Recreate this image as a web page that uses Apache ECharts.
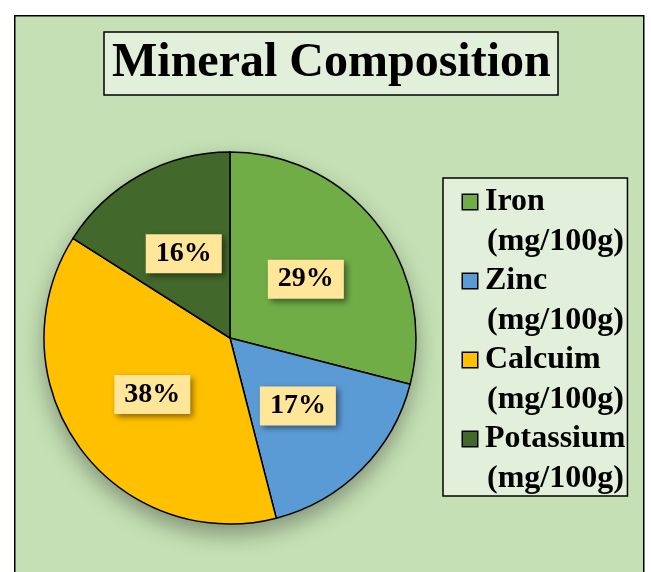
<!DOCTYPE html>
<html>
<head>
<meta charset="utf-8">
<script src="https://cdn.jsdelivr.net/npm/echarts@6/dist/echarts.min.js"></script>
<style>
  html, body { margin: 0; padding: 0; background: #fff; }
  #chart { width: 651px; height: 572px; }
</style>
</head>
<body>
<div id="chart"></div>
<script>
// chart data
const minerals = ["Iron", "Zinc", "Calcuim", "Potassium"];
const unit = "(mg/100g)";
const shares = [29, 17, 38, 16];
const sliceColors = ["#70ad47", "#5b9bd5", "#ffc000", "#43682b"];

const serif = "'Liberation Serif', 'Times New Roman', serif";

const pieData = minerals.map((m, i) => ({
  name: m + " " + unit,
  value: shares[i],
  itemStyle: { color: sliceColors[i] },
}));

// rich styles for the legend: one coloured square per mineral
const LH = 40;
const legendRich = {
  n: { fontSize: 32, fontWeight: "bold", fontFamily: serif, color: "#000",
       lineHeight: LH, padding: [0, 0, 0, 8] },
  u: { fontSize: 32, fontWeight: "bold", fontFamily: serif, color: "#000",
       lineHeight: LH, padding: [0, 0, 0, 24] },
};
sliceColors.forEach((c, i) => {
  legendRich["i" + i] = {
    width: 14, height: 14, backgroundColor: c,
    borderColor: "#000", borderWidth: 1.5, lineHeight: LH,
  };
});

const chart = echarts.init(document.getElementById("chart"));

const option = {
  backgroundColor: "#fff",
  animation: false,
  graphic: [
    {
      type: "rect",
      left: 14, top: 15, z: -10,
      shape: { width: 629, height: 600 },
      style: { fill: "#c5e0b4", stroke: "#000", lineWidth: 1.5 },
    },
  ],
  title: {
    text: "Mineral Composition",
    left: 104,
    top: 32,
    padding: [3, 8],
    backgroundColor: "#e2efda",
    borderColor: "#000",
    borderWidth: 1.5,
    textStyle: {
      fontSize: 48,
      fontWeight: "bold",
      fontFamily: serif,
      color: "#000",
      lineHeight: 57,
    },
  },
  legend: {
    orient: "vertical",
    left: 443,
    top: 178,
    icon: "none",
    itemWidth: 0,
    itemHeight: 10,
    itemGap: 7,
    padding: [8, 2, 1, 15],
    backgroundColor: "#e2efda",
    borderColor: "#000",
    borderWidth: 1.5,
    selectedMode: false,
    data: pieData.map((d) => d.name),
    formatter: function (name) {
      const i = pieData.findIndex((d) => d.name === name);
      return "{i" + i + "| }{n|" + minerals[i] + "}\n{u|" + unit + "}";
    },
    textStyle: { rich: legendRich },
  },
  series: [
    {
      // soft shadow under the whole pie
      type: "pie",
      silent: true,
      z: 1,
      center: [230, 338],
      radius: 186,
      startAngle: 90,
      data: pieData,
      label: { show: false },
      labelLine: { show: false },
      itemStyle: {
        shadowBlur: 22,
        shadowOffsetY: 10,
        shadowColor: "rgba(0,0,0,0.35)",
      },
      emphasis: { disabled: true },
    },
    {
      name: "Mineral Composition",
      type: "pie",
      z: 2,
      center: [230, 338],
      radius: 186,
      startAngle: 90,
      data: pieData,
      itemStyle: { borderColor: "#000", borderWidth: 1.5 },
      label: {
        show: true,
        position: "inside",
        formatter: (p) => Math.round(p.percent) + "%",
        fontSize: 28,
        fontWeight: "bold",
        fontFamily: serif,
        color: "#000",
        lineHeight: 28,
        backgroundColor: "#ffe699",
        padding: [6, 10, 5, 10],
        shadowBlur: 6,
        shadowOffsetX: 3,
        shadowOffsetY: 3,
        shadowColor: "rgba(0,0,0,0.45)",
      },
      labelLine: { show: false },
      emphasis: { disabled: true },
    },
  ],
};

chart.setOption(option);
</script>
</body>
</html>
